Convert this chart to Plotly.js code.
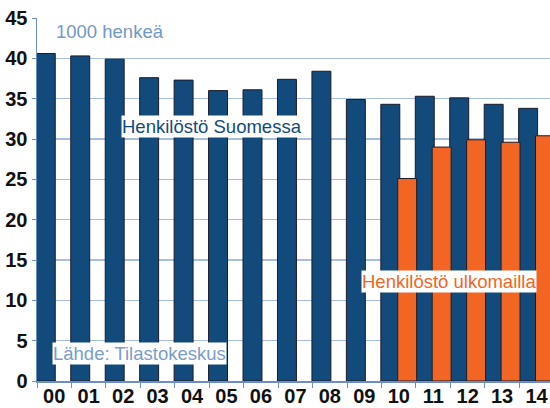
<!DOCTYPE html>
<html>
<head>
<meta charset="utf-8">
<script src="https://cdn.plot.ly/plotly-3.0.1.min.js"></script>
<style>html,body{margin:0;padding:0;background:#fff;}#chart{width:550px;height:408px;}</style>
</head>
<body>
<div id="chart"></div>
<script>
const years = ["00","01","02","03","04","05","06","07","08","09","10","11","12","13","14"];
const staffFinland = [40.6,40.3,39.9,37.6,37.3,36.0,36.1,37.4,38.4,34.9,34.3,35.3,35.1,34.3,33.8];
const staffAbroadYears = ["10","11","12","13","14"];
const staffAbroad = [25.1,29.0,29.9,29.6,30.4];
const yTicks = [0,5,10,15,20,25,30,35,40,45];

const blue = "#134a7c";
const orange = "#f26522";
const outline = "#1b1b2a";
const tickFont = {size:20, color:"#111", family:"Liberation Sans, Arial, sans-serif", weight:"bold"};

const traces = [
  {type:"bar", x:years, y:staffFinland, offset:-0.52, width:0.55,
   marker:{color:blue, line:{color:outline, width:1}}, hoverinfo:"skip"},
  {type:"bar", x:staffAbroadYears, y:staffAbroad, offset:-0.03, width:0.55,
   marker:{color:orange, line:{color:outline, width:1}}, hoverinfo:"skip"}
];

const layout = {
  width:550, height:408,
  margin:{l:37, r:0, t:18, b:27},
  paper_bgcolor:"#fff", plot_bgcolor:"#fff",
  barmode:"overlay",
  showlegend:false,
  font:{family:"Liberation Sans, Arial, sans-serif"},
  xaxis:{type:"category", categoryorder:"array", categoryarray:years,
    range:[-0.5,14.39], tickson:"boundaries", ticks:"outside", ticklen:5,
    tickcolor:"#6d8fbf", showline:true, linecolor:"#6d8fbf", linewidth:1.5,
    ticklabelstandoff:-4,
    showgrid:false, tickfont:tickFont, fixedrange:true},
  yaxis:{range:[0,45], tickvals:yTicks, ticks:"outside", ticklen:4, tickcolor:"#6d8fbf",
    showline:true, linecolor:"#6d8fbf", linewidth:1.5,
    gridcolor:"#a8bedb", gridwidth:1.5, zeroline:false,
    tickfont:tickFont, fixedrange:true},
  annotations:[
    {text:"1000 henkeä", xref:"paper", yref:"paper", x:0.033, y:0.962, xanchor:"left", yanchor:"middle",
     showarrow:false, font:{size:18.5, color:"#7098c8"}},
    {text:"Henkilöstö Suomessa", xref:"paper", yref:"paper", x:0.163, y:0.70, xanchor:"left", yanchor:"middle",
     showarrow:false, bgcolor:"#fff", borderpad:0, font:{size:18.5, color:blue}},
    {text:"Lähde: Tilastokeskus", xref:"paper", yref:"paper", x:0.029, y:0.077, xanchor:"left", yanchor:"middle",
     showarrow:false, bgcolor:"#fff", borderpad:0, font:{size:18.5, color:"#7a9ccb"}},
    {text:"Henkilöstö ulkomailla", xref:"paper", yref:"paper", x:0.632, y:0.275, xanchor:"left", yanchor:"middle",
     showarrow:false, bgcolor:"#fff", borderpad:0, font:{size:18.5, color:orange}}
  ]
};

Plotly.newPlot("chart", traces, layout, {displayModeBar:false, staticPlot:true});
</script>
</body>
</html>
